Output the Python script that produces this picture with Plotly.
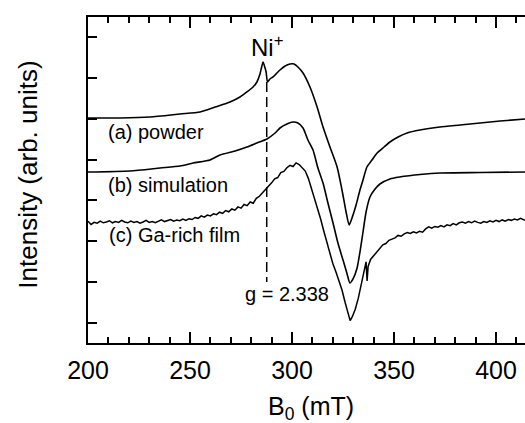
import plotly.graph_objects as go

FONT = "Liberation Sans, Arial, Helvetica, sans-serif"

# (a) powder
field_a = [200.0, 215.7, 230.4, 245.1, 254.9, 262.3, 269.6, 274.5, 277.9, 280.9, 282.8, 284.3, 285.0,
           285.8, 286.5, 287.3, 288.0, 289.2, 290.7, 292.6, 294.1, 296.6, 299.0, 301.0, 302.9, 305.4,
           308.8, 312.3, 315.2, 318.6, 322.1, 324.5, 326.5, 328.0, 329.4, 331.4, 333.3, 334.8, 336.7,
           339.2, 341.7, 345.1, 348.0, 352.0, 356.4, 362.7, 372.5, 382.4, 392.2, 402.0, 414.2]
int_a = [5.522, 5.522, 5.546, 5.620, 5.669, 5.791, 5.914, 6.037, 6.160, 6.282, 6.405, 6.601, 6.749,
         6.896, 6.798, 6.650, 6.405, 6.479, 6.528, 6.626, 6.699, 6.798, 6.847, 6.847, 6.773, 6.626,
         6.282, 5.791, 5.301, 4.810, 4.319, 3.755, 3.215, 2.896, 3.068, 3.387, 3.755, 4.000, 4.319,
         4.491, 4.663, 4.810, 4.933, 5.055, 5.153, 5.227, 5.301, 5.350, 5.399, 5.448, 5.497]

# (b) simulation
field_b = [200.0, 220.6, 235.3, 245.1, 251.5, 259.8, 264.7, 272.1, 277.9, 282.8, 287.7, 291.7, 294.1,
           297.5, 300.5, 302.9, 305.4, 307.8, 310.3, 312.7, 315.2, 317.6, 320.1, 322.5, 325.0, 327.0,
           328.4, 329.9, 331.9, 333.3, 334.8, 336.3, 338.2, 340.7, 343.1, 348.0, 352.9, 356.4, 362.7,
           372.5, 392.2, 414.2]
int_b = [4.196, 4.221, 4.295, 4.344, 4.417, 4.491, 4.614, 4.712, 4.810, 4.908, 5.006, 5.153, 5.276,
         5.374, 5.423, 5.399, 5.276, 4.982, 4.736, 4.295, 3.926, 3.436, 2.945, 2.454, 2.037, 1.693,
         1.472, 1.571, 1.841, 2.233, 2.724, 3.215, 3.583, 3.779, 3.902, 4.025, 4.074, 4.098, 4.135,
         4.172, 4.184, 4.196]

# (c) Ga-rich film
field_c = [200.0, 201.5, 203.0, 204.5, 206.0, 207.5, 209.0, 210.5, 212.0, 213.5, 215.0, 216.5, 218.0,
           219.5, 221.0, 222.5, 224.0, 225.5, 227.0, 228.5, 230.0, 231.5, 233.0, 234.5, 236.0, 237.5,
           239.0, 240.5, 242.0, 243.5, 245.0, 246.5, 248.0, 249.5, 251.0, 252.5, 254.0, 255.5, 257.0,
           258.5, 260.0, 261.5, 263.0, 264.5, 266.0, 267.5, 269.0, 270.5, 272.0, 273.5, 275.0, 276.5,
           278.0, 279.5, 281.0, 282.5, 284.0, 285.5, 287.0, 288.5, 290.0, 291.5, 293.0, 294.5, 296.0,
           297.5, 299.0, 300.5, 302.0, 303.5, 305.0, 306.5, 308.0, 309.5, 311.0, 312.5, 314.0, 315.5,
           317.0, 318.5, 320.0, 321.5, 323.0, 324.5, 326.0, 327.5, 328.5, 329.5, 331.0, 332.5, 334.0,
           335.5, 336.3, 336.8, 337.3, 338.5, 340.0, 341.5, 343.0, 344.5, 346.0, 347.5, 349.0, 350.5,
           352.0, 353.5, 355.0, 356.5, 358.0, 359.5, 361.0, 362.5, 364.0, 365.5, 367.0, 368.5, 370.0,
           371.5, 373.0, 374.5, 376.0, 377.5, 379.0, 380.5, 382.0, 383.5, 385.0, 386.5, 388.0, 389.5,
           391.0, 392.5, 394.0, 395.5, 397.0, 398.5, 400.0, 401.5, 403.0, 404.5, 406.0, 407.5, 409.0,
           410.5, 412.0, 413.5, 414.2]
int_c = [2.99, 2.91, 2.96, 2.94, 2.99, 2.95, 2.97, 3.00, 2.95, 2.98, 2.96, 3.01, 2.97,
         2.95, 2.99, 2.96, 2.98, 2.94, 2.97, 3.01, 2.96, 2.98, 2.95, 2.99, 3.02, 2.98,
         3.00, 3.03, 2.99, 3.02, 3.00, 3.04, 3.01, 3.05, 3.03, 3.08, 3.06, 3.12, 3.09,
         3.14, 3.12, 3.17, 3.15, 3.21, 3.18, 3.25, 3.22, 3.29, 3.26, 3.34, 3.31, 3.40,
         3.37, 3.46, 3.43, 3.55, 3.60, 3.68, 3.77, 3.84, 3.93, 4.03, 4.06, 4.18, 4.21,
         4.30, 4.36, 4.33, 4.42, 4.38, 4.31, 4.22, 4.04, 3.80, 3.55, 3.33, 3.05, 2.76,
         2.48, 2.20, 1.95, 1.75, 1.55, 1.30, 1.00, 0.72, 0.55, 0.64, 0.83, 1.10, 1.42,
         1.75, 1.99, 1.52, 1.88, 2.05, 2.14, 2.22, 2.30, 2.41, 2.44, 2.52, 2.55, 2.58,
         2.64, 2.62, 2.68, 2.71, 2.69, 2.73, 2.70, 2.74, 2.72, 2.80, 2.85, 2.82, 2.86,
         2.84, 2.88, 2.85, 2.90, 2.88, 2.93, 2.90, 2.95, 2.97, 2.94, 2.98, 2.95, 2.99,
         2.96, 2.94, 2.98, 2.96, 3.00, 2.97, 3.01, 2.98, 3.02, 2.99, 3.03, 3.01, 3.04,
         3.02, 3.06, 3.03, 3.01]

# Ni+ marker line (g = 2.338)
ni_field = [287.6, 287.6]
ni_span = [6.405, 1.497]

x_range = [200, 414.2]
y_range = [0, 8]

fig = go.Figure()
line_style = dict(color="black", width=1.6)
fig.add_trace(go.Scatter(x=field_a, y=int_a, mode="lines", line=dict(**line_style, shape="spline", smoothing=0.6)))
fig.add_trace(go.Scatter(x=field_b, y=int_b, mode="lines", line=dict(**line_style, shape="spline", smoothing=0.6)))
fig.add_trace(go.Scatter(x=field_c, y=int_c, mode="lines", line=dict(color="black", width=1.5)))
fig.add_trace(go.Scatter(x=ni_field, y=ni_span, mode="lines",
                         line=dict(color="black", width=1.5, dash="10px,5px")))

lab = dict(font=dict(family=FONT, size=20, color="black"), showarrow=False, xanchor="left", yanchor="middle")
annotations = [
    dict(x=208.8, y=5.18, xref="x", yref="y", text="(a) powder", **lab),
    dict(x=208.8, y=3.88, xref="x", yref="y", text="(b) simulation", **lab),
    dict(x=209.3, y=2.66, xref="x", yref="y", text="(c) Ga-rich film", **lab),
    dict(x=275.8, y=1.20, xref="x", yref="y", text="g = 2.338", **lab),
    dict(x=287.9, y=7.30, xref="x", yref="y", text="Ni<sup>+</sup>",
         font=dict(family=FONT, size=24, color="black"), showarrow=False, xanchor="center", yanchor="middle"),
    dict(x=0.510, y=-0.143, xref="paper", yref="paper", text="B<sub>0</sub> (mT)",
         font=dict(family=FONT, size=25, color="black"), showarrow=False, xanchor="center", yanchor="top"),
    dict(x=-0.136, y=0.515, xref="paper", yref="paper", text="Intensity (arb. units)", textangle=-90,
         font=dict(family=FONT, size=26, color="black"), showarrow=False, xanchor="center", yanchor="middle"),
]

fig.update_layout(
    width=525, height=423,
    margin=dict(l=88, r=0, t=17, b=80),
    paper_bgcolor="white", plot_bgcolor="white",
    showlegend=False,
    font=dict(family=FONT, size=25, color="black"),
    annotations=annotations,
)
fig.update_xaxes(range=x_range, showgrid=False, zeroline=False, showline=True, linecolor="black", linewidth=1.5,
                 mirror="ticks", ticks="inside", ticklen=11, tickwidth=1.5, tickcolor="black",
                 tick0=200, dtick=50, tickfont=dict(family=FONT, size=25, color="black"),
                 ticklabelstandoff=4,
                 minor=dict(ticks="inside", ticklen=6, tickwidth=1.5, tickcolor="black", dtick=10, showgrid=False))
fig.update_yaxes(range=y_range, showgrid=False, zeroline=False, showline=True, linecolor="black", linewidth=1.5,
                 mirror=False, ticks="inside", ticklen=9, tickwidth=1.5, tickcolor="black",
                 tick0=0.5, dtick=1, showticklabels=False)

fig.write_html("out.html", config={"displayModeBar": False},
               post_script="document.body.style.margin='0';document.body.style.overflow='hidden';")
